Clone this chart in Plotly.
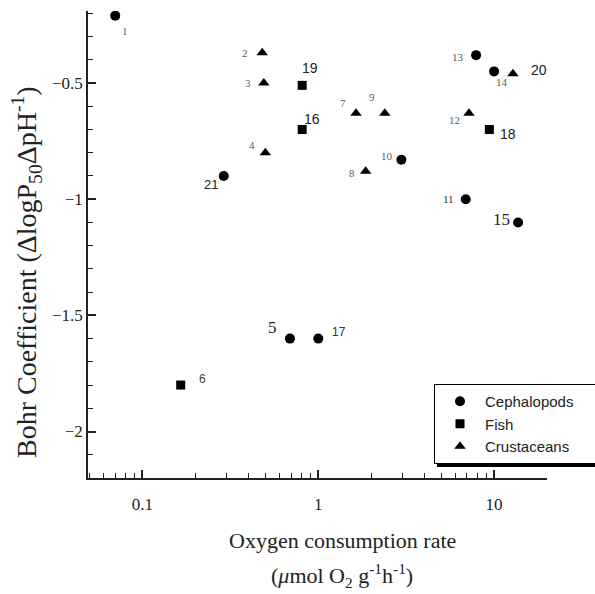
import numpy as np
import plotly.graph_objects as go

# data: id, oxygen consumption, Bohr coefficient
ceph_ids = ["1", "5", "10", "11", "13", "14", "15", "17", "21"]
ceph_x = [0.07, 0.69, 2.97, 6.9, 7.9, 10.0, 13.7, 1.0, 0.29]
ceph_y = [-0.21, -1.60, -0.83, -1.00, -0.38, -0.45, -1.10, -1.60, -0.90]

fish_ids = ["6", "16", "18", "19"]
fish_x = [0.165, 0.81, 9.4, 0.81]
fish_y = [-1.80, -0.70, -0.70, -0.51]

crus_ids = ["2", "3", "4", "7", "8", "9", "12", "20"]
crus_x = [0.48, 0.49, 0.50, 1.64, 1.86, 2.39, 7.2, 12.8]
crus_y = [-0.37, -0.50, -0.80, -0.63, -0.88, -0.63, -0.63, -0.46]

x_ticks = [0.1, 1, 10]
y_ticks = [-2, -1.5, -1, -0.5]

# label styles: (dx, dy, font family, size, color)
SERIF = "Liberation Serif"
SANS = "Liberation Sans"
G = "#5a5a5a"
K = "#222222"
label_style = {
    "1": (10, 15, SERIF, 11, G),
    "2": (-17, 0, SERIF, 11, G),
    "3": (-16, 0, SERIF, 11, G),
    "4": (-13, -8, SERIF, 11, G),
    "5": (-17, -11, SERIF, 17, K),
    "6": (22, -6, SANS, 12, "#444444"),
    "7": (-13, -10, SERIF, 11, G),
    "8": (-14, 2, SERIF, 11, G),
    "9": (-13, -16, SERIF, 11, G),
    "10": (-14, -4, SERIF, 11, G),
    "11": (-17, 0, SERIF, 11, "#333333"),
    "12": (-15, 7, SERIF, 11, G),
    "13": (-18, 2, SERIF, 11, G),
    "14": (8, 11, SERIF, 11, G),
    "15": (-17, -3, SERIF, 17, K),
    "16": (10, -10, SANS, 14, K),
    "17": (21, -7, SANS, 12, "#333333"),
    "18": (19, 5, SANS, 14, K),
    "19": (8, -17, SANS, 14, K),
    "20": (26, -4, SANS, 14, K),
    "21": (-13, 9, SANS, 13, K),
}

PAD = "&nbsp;" * 4
fig = go.Figure()
fig.add_trace(go.Scatter(x=ceph_x, y=ceph_y, mode="markers", name="Cephalopods" + PAD,
                         marker=dict(symbol="circle", size=10, color="black")))
fig.add_trace(go.Scatter(x=fish_x, y=fish_y, mode="markers", name="Fish",
                         marker=dict(symbol="square", size=9, color="black")))
fig.add_trace(go.Scatter(x=crus_x, y=crus_y, mode="markers", name="Crustaceans",
                         marker=dict(symbol="triangle-up", size=10, color="black")))

annotations = []
for ids, xs, ys in [(ceph_ids, ceph_x, ceph_y), (fish_ids, fish_x, fish_y), (crus_ids, crus_x, crus_y)]:
    for i, xv, yv in zip(ids, xs, ys):
        dx, dy, fam, sz, col = label_style[i]
        annotations.append(dict(x=np.log10(xv), y=yv, xref="x", yref="y", text=i,
                                showarrow=False, xshift=dx, yshift=-dy,
                                xanchor="center", yanchor="middle",
                                font=dict(family=fam, size=sz, color=col)))

W, H = 595, 594
L, R, T, B = 88, 48, 11, 116
pw, ph = W - L - R, H - T - B


def px(x):
    return (x - L) / pw


def py(y):
    return (H - B - y) / ph


annotations.append(dict(x=px(342), y=py(540), xref="paper", yref="paper", text="Oxygen consumption rate",
                        showarrow=False, xanchor="center", yanchor="middle",
                        font=dict(family=SERIF, size=22, color=K)))
annotations.append(dict(x=px(342), y=py(575), xref="paper", yref="paper",
                        text="(<i>μ</i>mol O<sub>2</sub> g<sup>-1</sup>h<sup>-1</sup>)",
                        showarrow=False, xanchor="center", yanchor="middle",
                        font=dict(family=SERIF, size=22, color=K)))
annotations.append(dict(x=px(26), y=py(272), xref="paper", yref="paper",
                        text="Bohr Coefficient (ΔlogP<sub>50</sub>ΔpH<sup>-1</sup>)", textangle=-90,
                        showarrow=False, xanchor="center", yanchor="middle",
                        font=dict(family=SERIF, size=28, color=K)))

# legend drop shadow (legend box is drawn on top of it)
LEG_TOP, LEG_BOT = 384, 463
shapes = [dict(type="rect", xref="paper", yref="paper", x0=px(437), x1=px(600),
               y0=py(LEG_TOP + 4), y1=py(LEG_BOT + 4),
               fillcolor="black", line=dict(width=0), layer="above")]

fig.update_layout(
    width=W, height=H, margin=dict(l=L, r=R, t=T, b=B, autoexpand=False),
    paper_bgcolor="white", plot_bgcolor="white",
    showlegend=True,
    legend=dict(x=px(434), y=py(LEG_TOP), xanchor="left", yanchor="top",
                bgcolor="white", bordercolor="black", borderwidth=1,
                font=dict(family=SANS, size=15, color=K),
                tracegroupgap=0, itemwidth=40),
    annotations=annotations,
    shapes=shapes,
    xaxis=dict(type="log", range=[np.log10(0.049), np.log10(20)],
               tickvals=x_ticks, ticktext=[str(v) for v in x_ticks],
               ticks="inside", ticklen=8, tickwidth=1.5, tickcolor=K, ticklabelstandoff=10,
               showline=True, linecolor=K, linewidth=1.5, showgrid=False, zeroline=False,
               tickfont=dict(family=SERIF, size=17, color=K),
               minor=dict(ticks="inside", ticklen=5, tickwidth=1.2, tickcolor=K, dtick="D1", showgrid=False)),
    yaxis=dict(range=[-2.2, -0.19], tickvals=y_ticks,
               ticks="inside", ticklen=8, tickwidth=1.5, tickcolor=K,
               showline=True, linecolor=K, linewidth=1.5, showgrid=False, zeroline=False,
               tickfont=dict(family=SERIF, size=17, color=K),
               minor=dict(ticks="inside", ticklen=5, tickwidth=1.2, tickcolor=K, dtick=0.1, showgrid=False)),
)

fig.write_html("out.html", config={"displayModeBar": False},
               post_script="document.body.style.margin='0';")
